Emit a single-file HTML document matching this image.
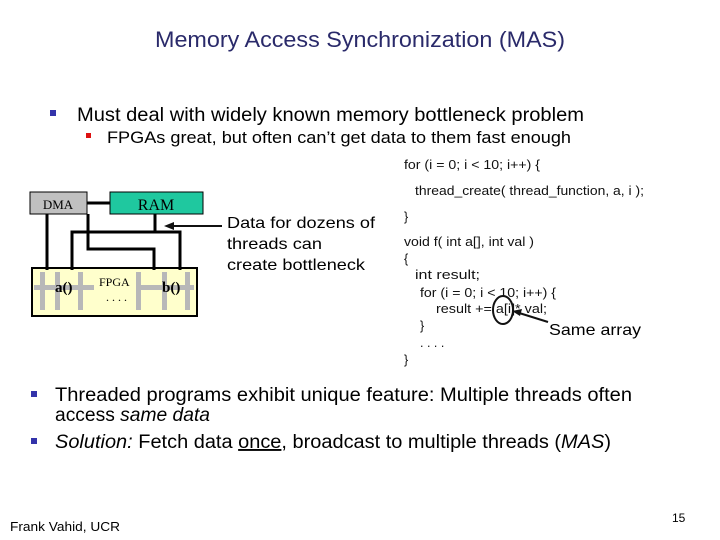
<!DOCTYPE html>
<html><head><meta charset="utf-8"><style>
body{margin:0;background:#fff;}
svg{display:block;font-family:"Liberation Sans",sans-serif;}
</style></head><body>
<svg width="720" height="540" viewBox="0 0 720 540" xmlns="http://www.w3.org/2000/svg">
<rect width="720" height="540" fill="#fff"/>
<text x="155" y="47" font-size="22" fill="#2a2a6a" textLength="410" lengthAdjust="spacingAndGlyphs">Memory Access Synchronization (MAS)</text>
<rect x="50" y="110" width="6" height="6" fill="#3333aa"/>
<text x="77" y="121" font-size="19" textLength="507" lengthAdjust="spacingAndGlyphs">Must deal with widely known memory bottleneck problem</text>
<rect x="86" y="133" width="5" height="5" fill="#dd1111"/>
<text x="107" y="143" font-size="17" textLength="464" lengthAdjust="spacingAndGlyphs">FPGAs great, but often can’t get data to them fast enough</text>

<g font-size="12.5" fill="#111">
<text x="404" y="169" textLength="136" lengthAdjust="spacingAndGlyphs">for (i = 0; i &lt; 10; i++) {</text>
<text x="415" y="195" textLength="229" lengthAdjust="spacingAndGlyphs">thread_create( thread_function, a, i );</text>
<text x="404" y="221">}</text>
<text x="404" y="246" textLength="130" lengthAdjust="spacingAndGlyphs">void f( int a[], int val )</text>
<text x="404" y="263">{</text>
<text x="415" y="279" textLength="65" lengthAdjust="spacingAndGlyphs">int result;</text>
<text x="420" y="297" textLength="136" lengthAdjust="spacingAndGlyphs">for (i = 0; i &lt; 10; i++) {</text>
<text x="436" y="313" textLength="111" lengthAdjust="spacingAndGlyphs">result += a[i]* val;</text>
<text x="420" y="330">}</text>
<text x="420" y="347">. . . .</text>
<text x="404" y="364">}</text>
</g>
<ellipse cx="503" cy="310" rx="10" ry="14" fill="none" stroke="#111" stroke-width="2"/>
<line x1="548" y1="322" x2="516" y2="312" stroke="#111" stroke-width="2"/>
<polygon points="512,311 522,309 520,316" fill="#111"/>
<text x="549" y="335" font-size="16" textLength="92" lengthAdjust="spacingAndGlyphs">Same array</text>

<text x="227" y="228" font-size="16" textLength="148" lengthAdjust="spacingAndGlyphs">Data for dozens of</text>
<text x="227" y="249" font-size="16" textLength="95" lengthAdjust="spacingAndGlyphs">threads can</text>
<text x="227" y="270" font-size="16" textLength="138" lengthAdjust="spacingAndGlyphs">create bottleneck</text>
<line x1="222" y1="226" x2="170" y2="226" stroke="#111" stroke-width="2"/>
<polygon points="164,226 174,222 174,230" fill="#111"/>

<!-- diagram -->
<rect x="32" y="268" width="165" height="48" fill="#ffffcc" stroke="#000" stroke-width="2"/>
<g stroke="#000" stroke-width="3" fill="none">
<line x1="87" y1="203" x2="110" y2="203"/>
<polyline points="47,214 47,270"/>
<polyline points="88,214 88,249 154,249 154,270"/>
<polyline points="155,214 155,232 72,232 72,270"/>
<polyline points="155,232 180,232 180,270"/>
</g>
<rect x="30" y="192" width="57" height="22" fill="#c0c0c0" stroke="#000" stroke-width="1"/>
<text x="58" y="209" font-size="13" text-anchor="middle" font-family="Liberation Serif,serif">DMA</text>
<rect x="110" y="192" width="93" height="22" fill="#1fc89f" stroke="#000" stroke-width="1"/>
<text x="156" y="210" font-size="16" text-anchor="middle" font-family="Liberation Serif,serif">RAM</text>
<g fill="#b8b8b8">
<rect x="40" y="272" width="5" height="38"/><rect x="55" y="272" width="5" height="38"/><rect x="78" y="272" width="5" height="38"/>
<rect x="34" y="285" width="60" height="5"/>
<rect x="136" y="272" width="5" height="38"/><rect x="162" y="272" width="5" height="38"/><rect x="185" y="272" width="5" height="38"/>
<rect x="140" y="285" width="54" height="5"/>
</g>
<text x="55" y="292" font-size="15" font-weight="bold" font-family="Liberation Serif,serif">a()</text>
<text x="162" y="292" font-size="15" font-weight="bold" font-family="Liberation Serif,serif">b()</text>
<text x="99" y="286" font-size="12" font-family="Liberation Serif,serif">FPGA</text>
<text x="106" y="301" font-size="12" font-family="Liberation Serif,serif">. . . .</text>

<rect x="31" y="391" width="6" height="6" fill="#3333aa"/>
<text x="55" y="401" font-size="19" textLength="577" lengthAdjust="spacingAndGlyphs">Threaded programs exhibit unique feature: Multiple threads often</text>
<text x="55" y="421" font-size="19" textLength="155" lengthAdjust="spacingAndGlyphs">access <tspan font-style="italic">same data</tspan></text>
<rect x="31" y="438" width="6" height="6" fill="#3333aa"/>
<text x="55" y="448" font-size="19" textLength="556" lengthAdjust="spacingAndGlyphs"><tspan font-style="italic">Solution:</tspan> Fetch data <tspan text-decoration="underline">once</tspan>, broadcast to multiple threads (<tspan font-style="italic">MAS</tspan>)</text>

<text x="10" y="531" font-size="13" textLength="110" lengthAdjust="spacingAndGlyphs">Frank Vahid, UCR</text>
<text x="672" y="522" font-size="12">15</text>
</svg>
</body></html>
